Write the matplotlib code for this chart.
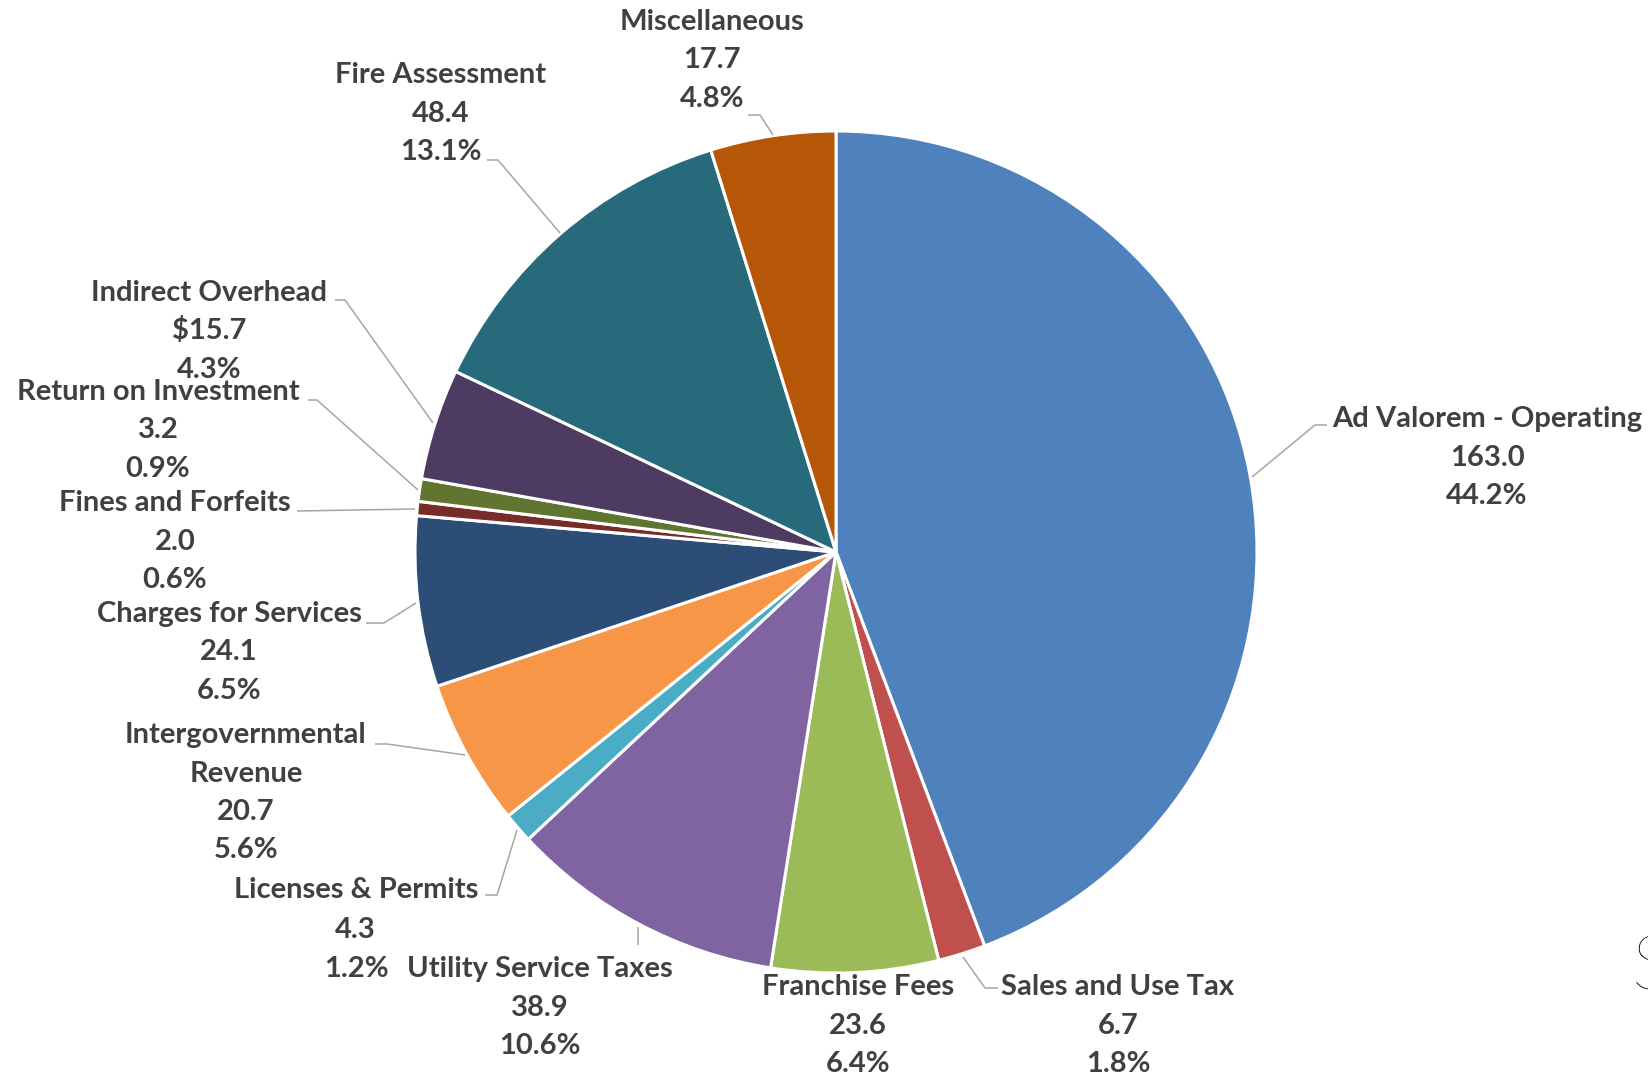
import matplotlib
matplotlib.use("Agg")
import matplotlib.pyplot as plt

# Revenue sources (millions), clockwise from 12 o'clock
categories = [
    "Ad Valorem - Operating", "Sales and Use Tax", "Franchise Fees",
    "Utility Service Taxes", "Licenses & Permits", "Intergovernmental\nRevenue",
    "Charges for Services", "Fines and Forfeits", "Return on Investment",
    "Indirect Overhead", "Fire Assessment", "Miscellaneous",
]
values = [163.0, 6.7, 23.6, 38.9, 4.3, 20.7, 24.1, 2.0, 3.2, 15.7, 48.4, 17.7]
value_labels = ["163.0", "6.7", "23.6", "38.9", "4.3", "20.7", "24.1",
                "2.0", "3.2", "$15.7", "48.4", "17.7"]
percent_labels = ["44.2%", "1.8%", "6.4%", "10.6%", "1.2%", "5.6%", "6.5%",
                  "0.6%", "0.9%", "4.3%", "13.1%", "4.8%"]
colors = ["#4F81BD", "#C0504D", "#9BBB59", "#8064A2", "#4BACC6", "#F79646",
          "#2C4D75", "#772C2A", "#5F7530", "#4D3B62", "#276A7C", "#B65708"]

W, H = 1649, 1077
fig = plt.figure(figsize=(W / 100, H / 100), dpi=100)
ax = fig.add_axes([0, 0, 1, 1])

cx, cy, r = 836, 552, 421
ax.pie(values, colors=colors, startangle=-90, counterclock=True,
       center=(cx, cy), radius=r,
       wedgeprops=dict(edgecolor="white", linewidth=2.2))
ax.set_xlim(0, W)
ax.set_ylim(H, 0)
ax.set_aspect("auto")
ax.axis("off")

# label anchor: (center x, baseline of first line)
label_pos = [
    (1487, 427), (1118, 995), (858, 995), (540, 977), (356, 898),
    (246, 743), (229, 622), (175, 511), (158, 400), (209, 301),
    (441, 83), (712, 30),
]
# leader lines drawn from the slice edge to the label
leaders = [
    [(1252, 477), (1315, 425), (1327, 425)],
    [(963, 957), (985, 988), (998, 988)],
    None,
    [(638, 927), (638, 945)],
    [(517, 830), (497, 895), (485, 895)],
    [(465, 755), (387, 744), (375, 744)],
    [(416, 603), (384, 623), (366, 623)],
    [(415, 509), (297, 511)],
    [(418, 490), (317, 400), (308, 400)],
    [(433, 423), (345, 300), (335, 300)],
    [(560, 233), (498, 160), (487, 160)],
    [(773, 135), (760, 115), (748, 115)],
]

font = dict(family="Lato", weight="bold", size=21, color="#404040")
step = 38.5
for i, (name, val, pct) in enumerate(zip(categories, value_labels, percent_labels)):
    x, y = label_pos[i]
    lines = name.split("\n") + [val, pct]
    if i == 4:
        # value and percent sit under the middle of the name
        ax.text(x, y, lines[0], ha="center", va="baseline", **font)
        ax.text(355, y + 40, lines[1], ha="center", va="baseline", **font)
        ax.text(356, y + 79, lines[2], ha="center", va="baseline", **font)
    else:
        for j, t in enumerate(lines):
            ax.text(x, y + j * step, t, ha="center", va="baseline", **font)
    if leaders[i]:
        xs, ys = zip(*leaders[i])
        ax.plot(xs, ys, color="#A6A6A6", linewidth=1.1, solid_capstyle="butt")

ax.text(1632, 990, "S", ha="left", va="baseline", fontsize=55,
        family="Lato", color="black", fontweight="light")

fig.savefig("out.png", dpi=100)
